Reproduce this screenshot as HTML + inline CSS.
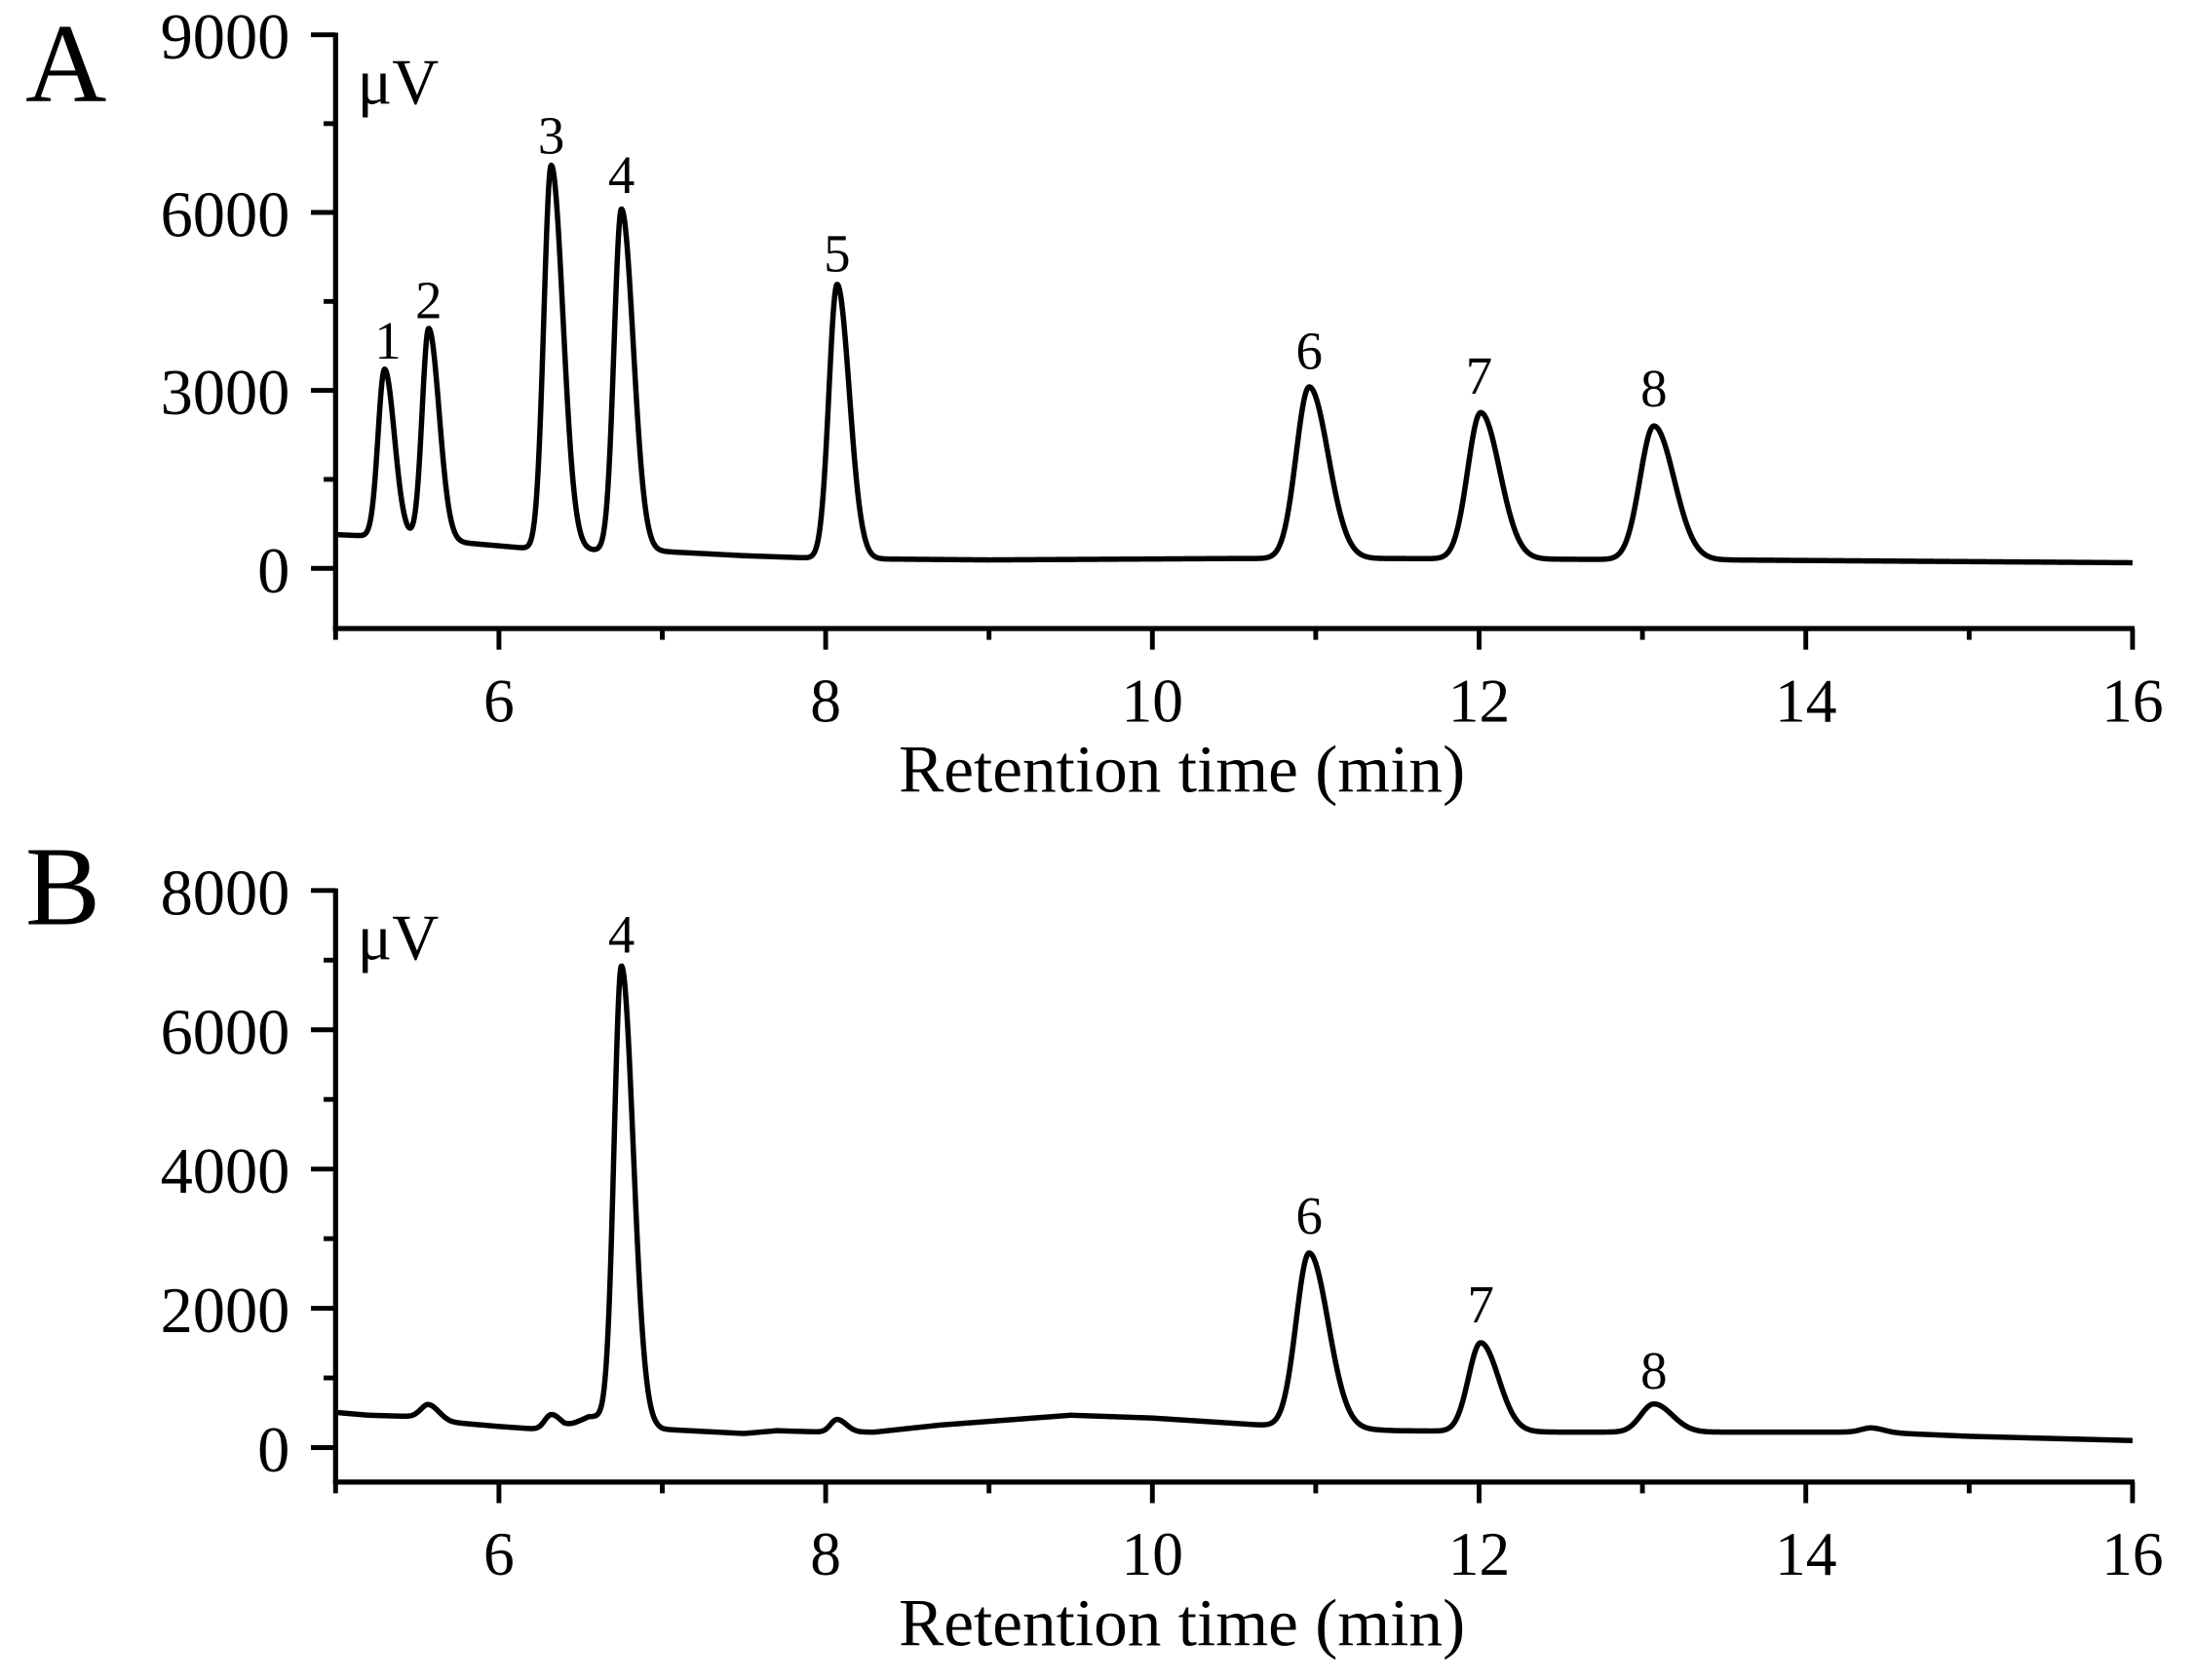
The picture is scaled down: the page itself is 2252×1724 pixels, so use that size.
<!DOCTYPE html>
<html><head><meta charset="utf-8">
<style>
html,body{margin:0;padding:0;background:#fff;}
svg{display:block;}
text{font-family:"Liberation Serif","Times New Roman",serif;fill:#000;}
</style></head>
<body>
<svg id="s" width="2252" height="1724" viewBox="0 0 1560 1194.2" xmlns="http://www.w3.org/2000/svg">
<rect width="1560" height="1195" fill="#fff"/>
<g id="g"></g>
</svg>
<script>
var NS="http://www.w3.org/2000/svg",g=document.getElementById('g');
function el(n,a,t){var e=document.createElementNS(NS,n);for(var k in a)e.setAttribute(k,a[k]);if(t!==undefined)e.textContent=t;g.appendChild(e);return e;}
function X(t){return 238.5+(t-5)*116.1;}
function interp(pts,t){if(t<=pts[0][0])return pts[0][1];for(var i=1;i<pts.length;i++){if(t<=pts[i][0]){var a=pts[i-1],b=pts[i];return a[1]+(b[1]-a[1])*(t-a[0])/(b[0]-a[0]);}}return pts[pts.length-1][1];}
function curve(base,peaks){var d="";for(var t=5.0;t<=16.0001;t+=0.004){var y=interp(base,t);for(var i=0;i<peaks.length;i++){var p=peaks[i],dt=t-p[0],s=dt<0?p[2]:p[2]*p[3];y-=p[1]*Math.exp(-dt*dt/(2*s*s));}d+=(d?"L":"M")+X(t).toFixed(2)+","+y.toFixed(2);}return d;}
function panel(o){
 el('line',{x1:238.5,y1:o.top-1.5,x2:238.5,y2:o.ax+1.5,stroke:'#000','stroke-width':3.6});
 el('line',{x1:236.7,y1:o.ax,x2:X(16)+1.5,y2:o.ax,stroke:'#000','stroke-width':3.6});
 for(var t=5;t<=16;t++){var mj=(t%2==0);el('line',{x1:X(t),y1:o.ax,x2:X(t),y2:o.ax+(mj?15:8),stroke:'#000','stroke-width':3.4});
  if(mj)el('text',{x:X(t),y:o.ax+66,'font-size':44,'text-anchor':'middle'},String(t));}
 for(var i=0;i<o.yt.length;i++){var v=o.yt[i];el('line',{x1:221,y1:v[0],x2:238.5,y2:v[0],stroke:'#000','stroke-width':3.4});
  el('text',{x:206,y:v[0]+17,'font-size':46,'text-anchor':'end'},v[1]);
  if(i<o.yt.length-1){var m=(v[0]+o.yt[i+1][0])/2;el('line',{x1:230,y1:m,x2:238.5,y2:m,stroke:'#000','stroke-width':3.4});}}
 el('text',{x:840,y:o.ax+116,'font-size':48,'text-anchor':'middle'},'Retention time (min)');
 el('text',{x:18,y:o.lbly,'font-size':80},o.lbl);
 el('text',{x:254,y:o.top+49,'font-size':46},'\u03bcV');
 el('path',{d:curve(o.base,o.peaks),fill:'none',stroke:'#000','stroke-width':3.8,'stroke-linejoin':'round'});
 for(var j=0;j<o.nl.length;j++){var n=o.nl[j];el('text',{x:X(n[0]),y:n[1],'font-size':38,'text-anchor':'middle'},n[2]);}
}
panel({top:24.7,ax:446.8,lbl:'A',lbly:72,
 yt:[[404,'0'],[277.5,'3000'],[151,'6000'],[24.7,'9000']],
 base:[[5.0,380],[5.2,381],[5.45,382],[5.8,386],[6.2,390],[6.5,391],[7.0,392],[7.5,395],[8.0,397],[9,398],[10.5,397],[11.5,397],[13.5,398],[16,400]],
 peaks:[[5.30,119,0.04,1.5],[5.57,150,0.04,1.6],[6.32,273,0.045,1.6],[6.75,243,0.045,1.6],[8.07,195,0.05,1.5],[10.96,122,0.08,1.45],[12.01,104,0.08,1.45],[13.07,95,0.085,1.45]],
 nl:[[5.32,255,'1'],[5.57,226,'2'],[6.32,109,'3'],[6.75,137,'4'],[8.07,193,'5'],[10.96,262,'6'],[12.0,280,'7'],[13.07,289,'8']]});
panel({top:633,ax:1053.5,lbl:'B',lbly:657,
 yt:[[1029,'0'],[930,'2000'],[831,'4000'],[732,'6000'],[633,'8000']],
 base:[[5.0,1004],[5.2,1006],[5.5,1007],[5.7,1011],[6.0,1014],[6.25,1016],[6.4,1015],[6.55,1007],[6.65,1007],[7.0,1016],[7.5,1019],[7.7,1017],[8.0,1018],[8.3,1018],[8.7,1013],[9.5,1006],[10,1008],[10.8,1014],[11.5,1017],[12.5,1018],[13.5,1018],[14.4,1018],[15,1021],[16,1024]],
 peaks:[[5.57,10,0.045,1.4],[6.32,10,0.04,1.4],[6.75,323,0.045,1.6],[8.07,9,0.04,1.4],[10.96,124,0.08,1.45],[12.01,63,0.075,1.45],[13.07,20,0.08,1.4],[14.4,3,0.06,1.3]],
 nl:[[6.75,677,'4'],[10.96,877,'6'],[12.01,940,'7'],[13.07,987,'8']]});
</script>
</body></html>
